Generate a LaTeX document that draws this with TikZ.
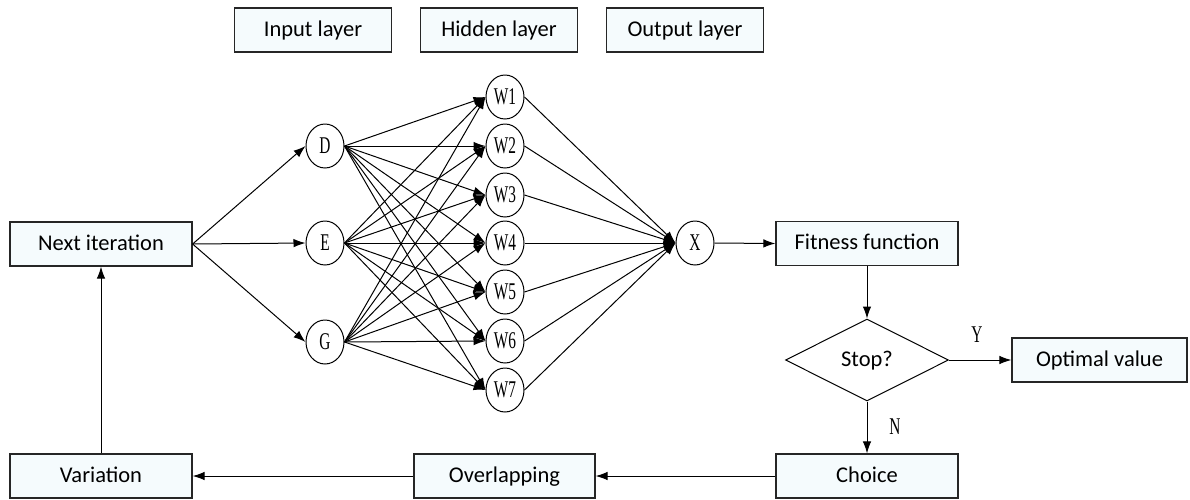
\documentclass[tikz,border=0pt]{standalone}
\usepackage{fontspec}
\setmainfont{Carlito}
\newfontfamily\condserif[FakeStretch=0.64]{Liberation Serif}
\usetikzlibrary{shapes.geometric,arrows.meta}
\definecolor{boxfill}{HTML}{F5FBFD}
\tikzset{
  box/.style={draw=black!85, line width=1.2pt, fill=boxfill, minimum height=44pt, inner sep=0pt, text height=15pt, text depth=3pt, font=\fontsize{22.5}{24}\selectfont},
  neuron/.style={draw, ellipse, line width=1pt, minimum width=38pt, minimum height=44pt, inner sep=0pt, font=\condserif\fontsize{24}{25}\selectfont},
  lbl/.style={font=\condserif\fontsize{24}{25}\selectfont, inner sep=0pt},
  decision/.style={draw, diamond, line width=1pt, minimum width=163pt, minimum height=82pt, inner sep=0pt, text height=15pt, text depth=3pt, font=\fontsize{22.5}{24}\selectfont},
  arr/.style={line width=1pt, -{Latex[length=12pt,width=8.5pt]}}
}
\begin{document}
\begin{tikzpicture}[x=1pt,y=-1pt]
\useasboundingbox (0,0) rectangle (1190,499);
% legend boxes
\node[box, minimum width=157pt] (inl) at (313,30) {Input layer};
\node[box, minimum width=157pt] (hidl) at (499,30) {Hidden layer};
\node[box, minimum width=157pt] (outl) at (685,30) {Output layer};
% flow boxes
\node[box, minimum width=182pt] (next) at (101,244) {Next iteration};
\node[box, minimum width=182pt] (fit) at (867,243.5) {Fitness function};
\node[decision] (stop) at (867,360) {Stop?};
\node[box, minimum width=175pt] (opt) at (1099.5,360) {Optimal value};
\node[box, minimum width=182pt] (choice) at (867,476) {Choice};
\node[box, minimum width=181pt] (over) at (504.5,476) {Overlapping};
\node[box, minimum width=182pt] (var) at (101,476) {Variation};
% neurons
\node[neuron] (D) at (325,146) {D};
\node[neuron] (E) at (325,243) {E};
\node[neuron] (G) at (325,342) {G};
\foreach \i/\y in {1/97,2/146,3/195,4/243,5/292,6/341,7/390}
  \node[neuron] (W\i) at (505,\y) {W\i};
\node[neuron] (X) at (695,243) {X};
% labels
\node[lbl] (ylab) at (977,335) {Y};
\node[lbl] (nlab) at (895,427) {N};
% connectors
\foreach \n in {D,E,G}
  \draw[arr] (next.east) -- (\n.west);
\foreach \n in {D,E,G}
  \foreach \i in {1,...,7}
    \draw[arr] (\n.east) -- (W\i.west);
\foreach \i in {1,...,7}
  \draw[arr] (W\i.east) -- (X.west);
\draw[arr] (X.east) -- (fit.west);
\draw[arr] (fit.south) -- (stop.north);
\draw[arr] (stop.east) -- (opt.west);
\draw[arr] (stop.south) -- (choice.north);
\draw[arr] (choice.west) -- (over.east);
\draw[arr] (over.west) -- (var.east);
\draw[arr] (var.north) -- (next.south);
\end{tikzpicture}
\end{document}
